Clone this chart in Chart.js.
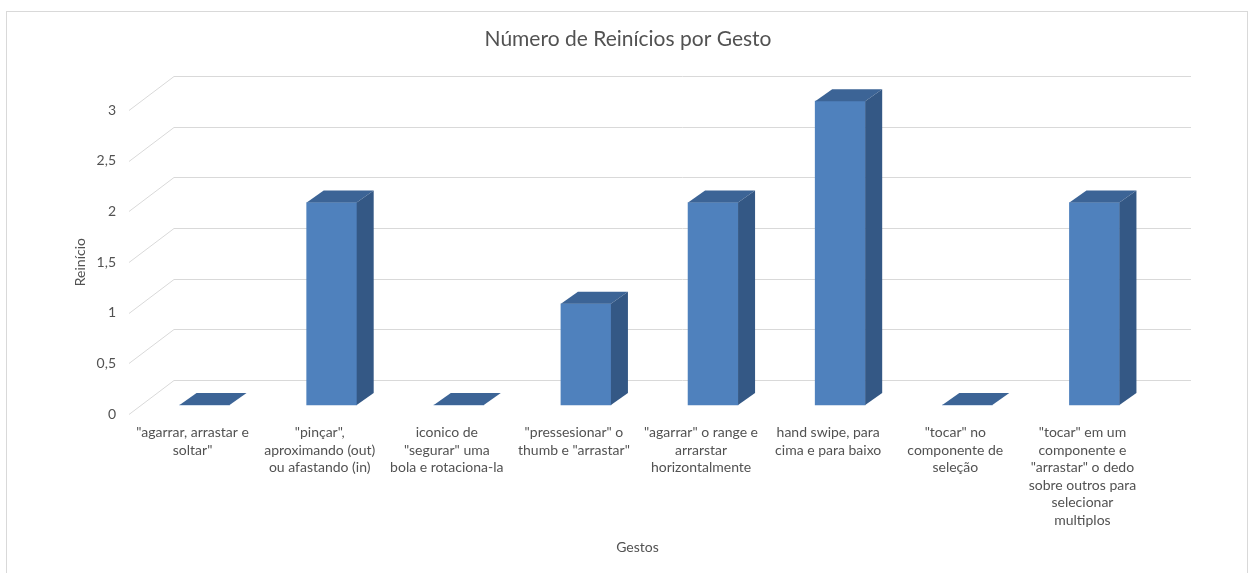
<!DOCTYPE html>
<html>
<head>
<meta charset="utf-8">
<script src="https://cdn.jsdelivr.net/npm/chart.js@4/dist/chart.umd.min.js"></script>
<style>
  html, body { margin: 0; padding: 0; background: #fff; }
  #wrap { position: relative; width: 1256px; height: 573px; }
</style>
</head>
<body>
<div id="wrap"><canvas id="chart"></canvas></div>
<script>
const gestures = [
    ['"agarrar, arrastar e', 'soltar"'],
    ['"pinçar",', 'aproximando (out)', 'ou afastando (in)'],
    ['iconico de', '"segurar" uma', 'bola e rotaciona-la'],
    ['"pressesionar" o', 'thumb e "arrastar"'],
    ['"agarrar" o range e', 'arrarstar', 'horizontalmente'],
    ['hand swipe, para', 'cima e para baixo'],
    ['"tocar" no', 'componente de', 'seleção'],
    ['"tocar" em um', 'componente e', '"arrastar" o dedo', 'sobre outros para', 'selecionar', 'multiplos']
]
const restarts = [0, 2, 0, 1, 2, 3, 0, 2]
const yTicks = [0, 0.5, 1, 1.5, 2, 2.5, 3]

const FRONT = '#4F81BD'
const TOP = '#3C6496'
const SIDE = '#345885'
const GRID = '#d9d9d9'
const TEXT = '#525252'

// 3d look: wall depth, bar offset into the box, bar depth
const wall = { dx: 45, dy: -34 }
const barShift = { dx: 12, dy: -9 }
const barDepth = { dx: 17, dy: -12 }

const box3d = {
    id: 'box3d',
    beforeDraw: function (chart) {
        const ctx = chart.ctx
        ctx.save()
        ctx.strokeStyle = '#d9d9d9'
        ctx.lineWidth = 1
        ctx.strokeRect(6.5, 11.5, 1241, 600)
        ctx.restore()
    },
    beforeDatasetsDraw: function (chart) {
        const ctx = chart.ctx
        const area = chart.chartArea
        const y = chart.scales.y
        ctx.save()
        ctx.strokeStyle = GRID
        ctx.lineWidth = 1
        yTicks.forEach(function (v) {
            const py = Math.round(y.getPixelForValue(v)) + 0.5
            ctx.beginPath()
            ctx.moveTo(area.left, py)
            ctx.lineTo(area.left + wall.dx, py + wall.dy)
            ctx.lineTo(area.right + wall.dx, py + wall.dy)
            ctx.stroke()
        })
        ctx.restore()
        // bars sit a little inside the box
        ctx.save()
        ctx.translate(barShift.dx, barShift.dy)
    },
    afterDatasetsDraw: function (chart) {
        const ctx = chart.ctx
        const meta = chart.getDatasetMeta(0)
        meta.data.forEach(function (bar) {
            const p = bar.getProps(['x', 'y', 'base', 'width'], true)
            const l = p.x - p.width / 2
            const r = p.x + p.width / 2
            const t = Math.min(p.y, p.base)
            const b = p.base
            // top face
            ctx.fillStyle = TOP
            ctx.beginPath()
            ctx.moveTo(l, t)
            ctx.lineTo(l + barDepth.dx, t + barDepth.dy)
            ctx.lineTo(r + barDepth.dx, t + barDepth.dy)
            ctx.lineTo(r, t)
            ctx.closePath()
            ctx.fill()
            // side face
            if (b - t > 0.5) {
                ctx.fillStyle = SIDE
                ctx.beginPath()
                ctx.moveTo(r, t)
                ctx.lineTo(r + barDepth.dx, t + barDepth.dy)
                ctx.lineTo(r + barDepth.dx, b + barDepth.dy)
                ctx.lineTo(r, b)
                ctx.closePath()
                ctx.fill()
            }
        })
        ctx.restore()
    }
}

const family = 'Lato, "Open Sans", sans-serif'

new Chart(document.getElementById('chart'), {
    type: 'bar',
    data: {
        labels: gestures,
        datasets: [{
            label: 'Reinício',
            data: restarts,
            backgroundColor: FRONT,
            borderWidth: 0,
            barThickness: 50,
            clip: false
        }]
    },
    plugins: [box3d],
    options: {
        responsive: true,
        maintainAspectRatio: false,
        animation: false,
        layout: { padding: { left: 0, right: 0, top: 0, bottom: 10 } },
        plugins: {
            legend: { display: false },
            tooltip: { enabled: false },
            title: {
                display: true,
                text: 'Número de Reinícios por Gesto',
                color: TEXT,
                font: { family: family, size: 21, weight: 'normal', lineHeight: 1.2 },
                padding: { top: 27, bottom: 58 }
            }
        },
        scales: {
            x: {
                grid: { display: false, drawTicks: false },
                border: { display: false },
                ticks: {
                    autoSkip: false,
                    maxRotation: 0,
                    minRotation: 0,
                    padding: 10,
                    color: TEXT,
                    font: { family: family, size: 14, lineHeight: 1.25 }
                },
                title: {
                    display: true,
                    text: 'Gestos',
                    color: TEXT,
                    font: { family: family, size: 14, lineHeight: 1.2 },
                    padding: { top: 0, bottom: 7 }
                },
                afterFit: function (scale) { scale.height = 149 }
            },
            y: {
                min: 0,
                max: 3,
                grid: { display: false, drawTicks: false },
                border: { display: false },
                afterBuildTicks: function (scale) {
                    scale.ticks = yTicks.map(function (v) { return { value: v } })
                },
                ticks: {
                    padding: 13,
                    color: TEXT,
                    font: { family: family, size: 14 },
                    callback: function (v) { return String(v).replace('.', ',') }
                },
                title: {
                    display: true,
                    text: 'Reinício',
                    color: TEXT,
                    font: { family: family, size: 14, lineHeight: 1.2 },
                    padding: { top: 72, bottom: 0 }
                },
                afterFit: function (scale) { scale.width = 129 }
            },
            // empty strip on the right that holds the back wall overhang
            yRight: {
                position: 'right',
                display: true,
                grid: { display: false, drawTicks: false },
                border: { display: false },
                ticks: { display: false },
                afterFit: function (scale) { scale.width = 110 }
            }
        }
    }
})
</script>
</body>
</html>
